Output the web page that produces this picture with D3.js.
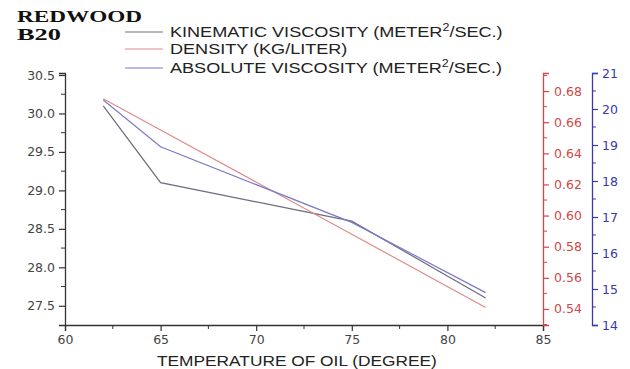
<!DOCTYPE html>
<html><head><meta charset="utf-8">
<script src="https://cdn.jsdelivr.net/npm/d3@7"></script>
<style>body{margin:0;background:#fff}svg{display:block}</style>
</head><body>
<svg id="c" width="630" height="369"></svg>
<script>
const temps = [62, 65, 75, 82];
const kinematic = [30.1, 29.1, 28.6, 27.6];
const density = [0.675, 0.655, 0.588, 0.541];
const absolute = [20.25, 18.95, 16.85, 14.9];
const xTicks = [60, 65, 70, 75, 80, 85];
const leftTicks = [27.5, 28.0, 28.5, 29.0, 29.5, 30.0, 30.5];
const redTicks = [0.54, 0.56, 0.58, 0.60, 0.62, 0.64, 0.66, 0.68];
const blueTicks = [14, 15, 16, 17, 18, 19, 20, 21];
const legendLabels = ["KINEMATIC VISCOSITY (METER", "DENSITY (KG/LITER)", "ABSOLUTE VISCOSITY (METER"];

const svg = d3.select("#c");
const L = 65, R = 543, T = 73, B = 325;
const x = d3.scaleLinear().domain([60, 85]).range([L, R]);
const yL = d3.scaleLinear().domain([27.25, 30.526]).range([B, T]);
const yR = d3.scaleLinear().domain([0.5297, 0.6916]).range([B, T]);
const yB = d3.scaleLinear().domain([14, 21]).range([B, T]);

const gray = "#6c6c7c", red = "#e08a8a", blue = "#7a7ac8";
const redAx = "#d04848", blueAx = "#3a3aa8", axCol = "#333";
const font = "'Liberation Sans', Arial, sans-serif";
const tickFont = "'DejaVu Sans', sans-serif";

function styleAxis(g, col, labCol) {
  g.select(".domain").attr("stroke", col).attr("stroke-width", 1.3);
  g.selectAll(".tick line").attr("stroke", col).attr("stroke-width", 1.2);
  g.selectAll(".tick text").attr("fill", labCol).style("font-family", tickFont).style("font-size", "12.5px");
}

function minor(g, vals, pos, dir, orient, col) {
  g.selectAll(null).data(vals).enter().append("line")
    .attr("stroke", col).attr("stroke-width", 1)
    .each(function(d){
      const s = d3.select(this);
      if (orient === "v") s.attr("x1", pos).attr("x2", pos + dir*4).attr("y1", d).attr("y2", d);
      else s.attr("y1", pos).attr("y2", pos + dir*4).attr("x1", d).attr("x2", d);
    });
}

const gx = svg.append("g").attr("transform", `translate(0,${B})`)
  .call(d3.axisBottom(x).tickValues(xTicks).tickFormat(d3.format("d")).tickSize(6).tickPadding(4));
styleAxis(gx, axCol, "#444");
minor(svg.append("g"), [62.5, 67.5, 72.5, 77.5, 82.5].map(x), B, 1, "h", axCol);

const gl = svg.append("g").attr("transform", `translate(${L},0)`)
  .call(d3.axisLeft(yL).tickValues(leftTicks).tickFormat(d3.format(".1f")).tickSize(6).tickPadding(4));
styleAxis(gl, axCol, "#444");
minor(svg.append("g"), [27.75, 28.25, 28.75, 29.25, 29.75, 30.25].map(yL), L, -1, "v", axCol);

const gr = svg.append("g").attr("transform", `translate(${R},0)`)
  .call(d3.axisRight(yR).tickValues(redTicks).tickFormat(d3.format(".2f")).tickSize(6).tickPadding(5));
styleAxis(gr, redAx, redAx);
minor(svg.append("g"), [0.53, 0.55, 0.57, 0.59, 0.61, 0.63, 0.65, 0.67, 0.69].map(yR), R, 1, "v", redAx);

const XB = 592;
const gb = svg.append("g").attr("transform", `translate(${XB},0)`)
  .call(d3.axisRight(yB).tickValues(blueTicks).tickFormat(d3.format("d")).tickSize(6).tickPadding(4));
styleAxis(gb, blueAx, blueAx);
minor(svg.append("g"), [14.5, 15.5, 16.5, 17.5, 18.5, 19.5, 20.5].map(yB), XB, 1, "v", blueAx);

const pts = (arr) => temps.map((t, i) => [t, arr[i]]);
svg.append("path").datum(pts(kinematic)).attr("fill", "none").attr("stroke", gray).attr("stroke-width", 1.2)
  .attr("d", d3.line().x(d => x(d[0])).y(d => yL(d[1])));
svg.append("path").datum(pts(density)).attr("fill", "none").attr("stroke", red).attr("stroke-width", 1.2)
  .attr("d", d3.line().x(d => x(d[0])).y(d => yR(d[1])));
svg.append("path").datum(pts(absolute)).attr("fill", "none").attr("stroke", blue).attr("stroke-width", 1.2)
  .attr("d", d3.line().x(d => x(d[0])).y(d => yB(d[1])));

const xt = svg.append("g").attr("transform", "translate(157,366)");
const xtt = xt.append("text").attr("x", 0).attr("y", 0)
  .style("font-family", font).style("font-size", "15px").attr("fill", "#222")
  .text("TEMPERATURE OF OIL (DEGREE)");
const xtw = xtt.node().getComputedTextLength();
xtt.attr("transform", `scale(${280 / xtw},1)`);

const tf = "'Liberation Serif', 'Times New Roman', serif";
svg.append("text").attr("x", 17).attr("y", 22).style("font-family", tf).style("font-weight", "bold")
  .style("font-size", "16px").attr("fill", "#111")
  .attr("textLength", 125).attr("lengthAdjust", "spacingAndGlyphs").text("REDWOOD");
svg.append("text").attr("x", 17).attr("y", 40).style("font-family", tf).style("font-weight", "bold")
  .style("font-size", "16px").attr("fill", "#111")
  .attr("textLength", 44).attr("lengthAdjust", "spacingAndGlyphs").text("B20");

const legCols = [gray, red, blue];
const legY = [32, 49, 68];
let scaleX = null;
legendLabels.forEach((lab, i) => {
  svg.append("line").attr("x1", 125).attr("x2", 163).attr("y1", legY[i]).attr("y2", legY[i])
    .attr("stroke", legCols[i]).attr("stroke-width", 1.2);
  const g = svg.append("g").attr("transform", `translate(170,${legY[i] + 5})`);
  const t = g.append("text").attr("x", 0).attr("y", 0)
    .style("font-family", font).style("font-size", "14.5px").attr("fill", "#222");
  t.append("tspan").text(lab);
  if (i !== 1) {
    t.append("tspan").attr("dy", -6).style("font-size", "10px").text("2");
    t.append("tspan").attr("dy", 6).text("/SEC.)");
  }
  if (scaleX === null) scaleX = 333 / t.node().getBBox().width;
  t.attr("transform", `scale(${scaleX},1)`);
});
</script>
</body></html>
